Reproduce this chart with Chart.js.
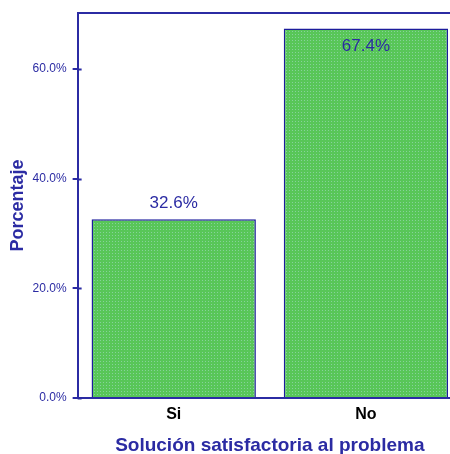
<!DOCTYPE html>
<html>
<head>
<meta charset="utf-8">
<script src="https://cdn.jsdelivr.net/npm/chart.js@4"></script>
<style>
  html, body { margin: 0; padding: 0; background: #fff; overflow: hidden; }
  #wrap { width: 462px; height: 457px; }
</style>
</head>
<body>
<div id="wrap"><canvas id="chart" width="462" height="457"></canvas></div>
<script>
// データ
const categories = ['Si', 'No'];
const percentages = [32.6, 67.4];
const yTicks = [0, 20, 40, 60];

const navy = '#2b2ba3';
const barEdge = '#1c1c9c';

// 緑の点々模様
function makePattern() {
    const c = document.createElement('canvas');
    c.width = 3; c.height = 3;
    const g = c.getContext('2d');
    g.fillStyle = '#58c658';
    g.fillRect(0, 0, 3, 3);
    g.fillStyle = '#86d29a';
    g.fillRect(1, 1, 1, 1);
    return g.createPattern(c, 'repeat');
}

// バーの値ラベルと内側の目盛り
const extras = {
    id: 'extras',
    afterDatasetsDraw(chart) {
        const ctx = chart.ctx;
        const meta = chart.getDatasetMeta(0);
        ctx.save();
        ctx.fillStyle = navy;
        ctx.font = '17px "Liberation Sans", Arial, sans-serif';
        ctx.textAlign = 'center';
        meta.data.forEach((bar, i) => {
            const v = percentages[i];
            const txt = v.toFixed(1) + '%';
            if (v > 50) {
                ctx.textBaseline = 'top';
                ctx.fillText(txt, bar.x, bar.y + 9);
            } else {
                ctx.textBaseline = 'bottom';
                ctx.fillText(txt, bar.x, bar.y - 7);
            }
        });
        // y軸の内側の目盛り
        const ys = chart.scales.y;
        ctx.strokeStyle = navy;
        ctx.lineWidth = 2;
        yTicks.forEach(t => {
            const py = Math.round(ys.getPixelForValue(t)) + 0.5;
            ctx.beginPath();
            ctx.moveTo(ys.right, py);
            ctx.lineTo(ys.right + 4, py);
            ctx.stroke();
        });
        ctx.restore();
    }
};

const ctx = document.getElementById('chart').getContext('2d');
new Chart(ctx, {
    type: 'bar',
    data: {
        labels: categories,
        datasets: [{
            data: percentages,
            backgroundColor: makePattern(),
            borderColor: barEdge,
            borderWidth: 1.5,
            categoryPercentage: 0.855,
            barPercentage: 1.0
        }]
    },
    options: {
        responsive: false,
        animation: false,
        layout: { padding: { top: 5, right: 0, left: 0, bottom: 0 } },
        plugins: { legend: { display: false }, tooltip: { enabled: false } },
        scales: {
            x: {
                grid: { display: false, drawOnChartArea: false, drawTicks: true, tickLength: 6, color: navy, lineWidth: 2 },
                border: { display: true, color: navy, width: 2 },
                ticks: { color: '#000', font: { family: '"Liberation Sans", Arial, sans-serif', size: 16, weight: 'bold' }, padding: 1 },
                title: {
                    display: true,
                    text: 'Solución satisfactoria al problema',
                    color: navy,
                    font: { family: '"Liberation Sans", Arial, sans-serif', size: 19, weight: 'bold' },
                    padding: { top: 9, bottom: 0 }
                }
            },
            x2: {
                position: 'top',
                grid: { display: false },
                ticks: { display: false },
                border: { display: true, color: navy, width: 2 }
            },
            y: {
                min: 0,
                max: 70.2,
                afterBuildTicks: axis => {
                    axis.ticks = yTicks.map(v => ({ value: v }));
                },
                grid: { drawOnChartArea: false, tickLength: 5, color: navy, lineWidth: 2 },
                border: { display: true, color: navy, width: 2 },
                ticks: {
                    color: navy,
                    font: { family: '"Liberation Sans", Arial, sans-serif', size: 12 },
                    padding: 6,
                    callback: v => Number(v).toFixed(1) + '%'
                },
                title: {
                    display: true,
                    text: 'Porcentaje',
                    color: navy,
                    font: { family: '"Liberation Sans", Arial, sans-serif', size: 18, weight: 'bold' },
                    padding: { top: 7, bottom: -2 }
                }
            }
        }
    },
    plugins: [extras]
});
</script>
</body>
</html>
